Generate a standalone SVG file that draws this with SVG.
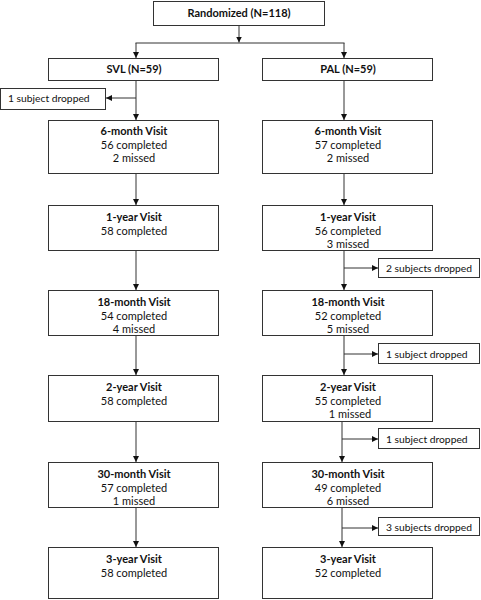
<svg xmlns="http://www.w3.org/2000/svg" width="481" height="600" viewBox="0 0 481 600">
<style>
.box{fill:#fff;stroke:#333;stroke-width:1}
.ln{fill:none;stroke:#333;stroke-width:1}
text{font-family:Lato,"Liberation Sans",sans-serif;font-size:11px;fill:#111;text-anchor:middle}
.b{font-weight:bold}
.l{text-anchor:start;font-size:10.3px}
</style>
<defs>
<marker id="ah" viewBox="0 0 6 6" refX="6" refY="3" markerWidth="6" markerHeight="6" markerUnits="userSpaceOnUse" orient="auto">
<path d="M0,0 L6,3 L0,6 Z" fill="#111"/>
</marker>
</defs>
<g id="connectors">
<line class="ln" x1="239" y1="26" x2="239" y2="42.5" marker-end="url(#ah)"/>
<line class="ln" x1="135.5" y1="43" x2="344.5" y2="43"/>
<line class="ln" x1="136" y1="43" x2="136" y2="58" marker-end="url(#ah)"/>
<line class="ln" x1="344" y1="43" x2="344" y2="58" marker-end="url(#ah)"/>
<line class="ln" x1="136" y1="80" x2="136" y2="120" marker-end="url(#ah)"/>
<line class="ln" x1="136" y1="98" x2="106" y2="98" marker-end="url(#ah)"/>
<line class="ln" x1="344" y1="80" x2="344" y2="120" marker-end="url(#ah)"/>
<line class="ln" x1="136" y1="174" x2="136" y2="205" marker-end="url(#ah)"/>
<line class="ln" x1="344" y1="174" x2="344" y2="205" marker-end="url(#ah)"/>
<line class="ln" x1="136" y1="251" x2="136" y2="290" marker-end="url(#ah)"/>
<line class="ln" x1="344" y1="251" x2="344" y2="290" marker-end="url(#ah)"/>
<line class="ln" x1="344" y1="268" x2="378" y2="268" marker-end="url(#ah)"/>
<line class="ln" x1="136" y1="336" x2="136" y2="375" marker-end="url(#ah)"/>
<line class="ln" x1="344" y1="336" x2="344" y2="375" marker-end="url(#ah)"/>
<line class="ln" x1="344" y1="354" x2="378" y2="354" marker-end="url(#ah)"/>
<line class="ln" x1="136" y1="422" x2="136" y2="462" marker-end="url(#ah)"/>
<line class="ln" x1="342" y1="422" x2="342" y2="462" marker-end="url(#ah)"/>
<line class="ln" x1="342" y1="439" x2="378" y2="439" marker-end="url(#ah)"/>
<line class="ln" x1="136" y1="508" x2="136" y2="547" marker-end="url(#ah)"/>
<line class="ln" x1="342" y1="508" x2="342" y2="547" marker-end="url(#ah)"/>
<line class="ln" x1="342" y1="528" x2="378" y2="528" marker-end="url(#ah)"/>
</g>
<g id="randomized"><rect class="box" x="153.5" y="1.5" width="171" height="24"/><text class="b" x="239" y="17">Randomized (N=118)</text></g>
<g id="svl"><rect class="box" x="48.5" y="58.5" width="170" height="22"/><text class="b" x="134" y="73">SVL (N=59)</text></g>
<g id="pal"><rect class="box" x="262.5" y="58.5" width="170" height="22"/><text class="b" x="348" y="73">PAL (N=59)</text></g>
<g id="svl-drop"><rect class="box" x="0.5" y="88.5" width="105" height="21"/><text class="l" x="8" y="102">1 subject dropped</text></g>
<g id="svl-6m"><rect class="box" x="48.5" y="120.5" width="170" height="53"/><text class="b" x="134" y="135">6-month Visit</text><text x="134" y="148.5">56 completed</text><text x="134" y="162">2 missed</text></g>
<g id="pal-6m"><rect class="box" x="262.5" y="120.5" width="170" height="53"/><text class="b" x="348" y="135">6-month Visit</text><text x="348" y="148.5">57 completed</text><text x="348" y="162">2 missed</text></g>
<g id="svl-1y"><rect class="box" x="48.5" y="205.5" width="170" height="45"/><text class="b" x="134" y="221">1-year Visit</text><text x="134" y="234.5">58 completed</text></g>
<g id="pal-1y"><rect class="box" x="262.5" y="205.5" width="170" height="45"/><text class="b" x="348" y="221">1-year Visit</text><text x="348" y="234.5">56 completed</text><text x="348" y="248">3 missed</text></g>
<g id="pal-drop1"><rect class="box" x="378.5" y="258.5" width="101" height="19"/><text class="l" x="386" y="272">2 subjects dropped</text></g>
<g id="svl-18m"><rect class="box" x="48.5" y="290.5" width="170" height="45"/><text class="b" x="134" y="306">18-month Visit</text><text x="134" y="319.5">54 completed</text><text x="134" y="333">4 missed</text></g>
<g id="pal-18m"><rect class="box" x="262.5" y="290.5" width="170" height="45"/><text class="b" x="348" y="306">18-month Visit</text><text x="348" y="319.5">52 completed</text><text x="348" y="333">5 missed</text></g>
<g id="pal-drop2"><rect class="box" x="378.5" y="343.5" width="101" height="20"/><text class="l" x="386" y="357.5">1 subject dropped</text></g>
<g id="svl-2y"><rect class="box" x="48.5" y="375.5" width="170" height="46"/><text class="b" x="134" y="391">2-year Visit</text><text x="134" y="404.5">58 completed</text></g>
<g id="pal-2y"><rect class="box" x="262.5" y="375.5" width="170" height="46"/><text class="b" x="348" y="391">2-year Visit</text><text x="348" y="404.5">55 completed</text><text x="350" y="418">1 missed</text></g>
<g id="pal-drop3"><rect class="box" x="378.5" y="428.5" width="101" height="20"/><text class="l" x="386" y="442.5">1 subject dropped</text></g>
<g id="svl-30m"><rect class="box" x="48.5" y="462.5" width="170" height="45"/><text class="b" x="134" y="478">30-month Visit</text><text x="134" y="491.5">57 completed</text><text x="134" y="505">1 missed</text></g>
<g id="pal-30m"><rect class="box" x="262.5" y="462.5" width="170" height="45"/><text class="b" x="348" y="478">30-month Visit</text><text x="348" y="491.5">49 completed</text><text x="348" y="505">6 missed</text></g>
<g id="pal-drop4"><rect class="box" x="378.5" y="517.5" width="101" height="18"/><text class="l" x="386" y="530.5">3 subjects dropped</text></g>
<g id="svl-3y"><rect class="box" x="48.5" y="547.5" width="170" height="51"/><text class="b" x="134" y="563">3-year Visit</text><text x="134" y="576.5">58 completed</text></g>
<g id="pal-3y"><rect class="box" x="262.5" y="547.5" width="170" height="51"/><text class="b" x="348" y="563">3-year Visit</text><text x="348" y="576.5">52 completed</text></g>
</svg>
